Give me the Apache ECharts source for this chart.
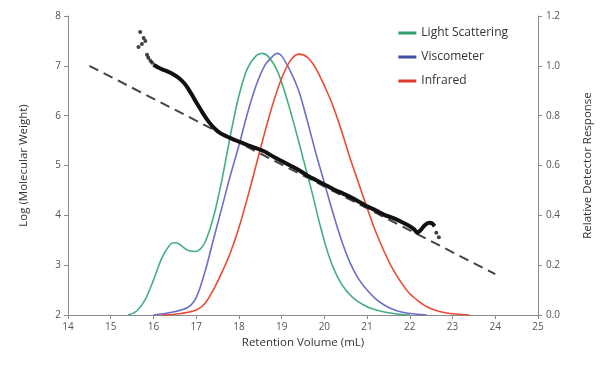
<!DOCTYPE html>
<html><head><meta charset="utf-8">
<script src="https://cdn.jsdelivr.net/npm/echarts@6/dist/echarts.min.js"></script>
<style>html,body{margin:0;padding:0;background:#fff}#c{width:608px;height:373px}</style>
</head><body><div id="c"></div>
<script>
// Retention volume (mL) vs detector response
var lsX = [15.4,15.6,15.8,16.0,16.2,16.4,16.5,16.6,16.8,17.0,17.2,17.4,17.6,17.8,18.0,18.2,18.4,18.55,18.7,18.9,19.1,19.3,19.5,19.7,19.9,20.1,20.3,20.5,20.7,20.9,21.1,21.4,21.7,22.0];
var lsY = [0,0.015,0.06,0.14,0.23,0.285,0.29,0.285,0.26,0.255,0.29,0.39,0.54,0.72,0.88,0.99,1.04,1.05,1.035,0.98,0.88,0.76,0.63,0.5,0.36,0.24,0.155,0.1,0.065,0.042,0.026,0.012,0.004,0];
var viscX = [16.0,16.4,16.8,17.0,17.2,17.4,17.6,17.8,18.0,18.2,18.4,18.6,18.8,18.9,19.0,19.2,19.4,19.6,19.8,20.0,20.2,20.4,20.6,20.8,21.0,21.2,21.4,21.6,21.8,22.0,22.4];
var viscY = [0,0.01,0.03,0.07,0.17,0.3,0.43,0.56,0.68,0.81,0.92,1.0,1.04,1.05,1.04,0.98,0.9,0.78,0.65,0.53,0.41,0.3,0.21,0.145,0.1,0.065,0.04,0.023,0.012,0.006,0];
var irX = [16.2,16.6,17.0,17.2,17.4,17.6,17.8,18.0,18.2,18.4,18.6,18.8,19.0,19.2,19.4,19.6,19.8,20.0,20.2,20.4,20.6,20.8,21.0,21.2,21.4,21.6,21.8,22.0,22.2,22.4,22.6,22.8,23.0,23.4];
var irY = [0,0.005,0.02,0.045,0.1,0.17,0.25,0.35,0.47,0.6,0.73,0.85,0.95,1.02,1.047,1.035,0.99,0.92,0.84,0.74,0.63,0.53,0.43,0.335,0.255,0.185,0.13,0.085,0.056,0.033,0.019,0.01,0.005,0];
// Log molecular weight trace
var mwX = [16.0,16.1,16.2,16.3,16.4,16.5,16.6,16.7,16.8,16.9,17.0,17.1,17.2,17.3,17.4,17.5,17.6,17.8,18.0,18.2,18.4,18.6,18.8,19.0,19.2,19.4,19.6,19.8,20.0,20.2,20.4,20.6,20.8,21.0,21.2,21.4,21.6,21.8,22.0,22.1,22.17,22.25,22.35,22.45,22.52,22.58];
var mwY = [7.02,6.97,6.93,6.9,6.86,6.81,6.75,6.67,6.56,6.42,6.27,6.13,5.99,5.87,5.77,5.69,5.63,5.55,5.48,5.41,5.35,5.28,5.18,5.09,5.0,4.91,4.8,4.71,4.62,4.53,4.45,4.37,4.28,4.18,4.1,4.01,3.95,3.87,3.78,3.72,3.65,3.7,3.8,3.85,3.84,3.78];
var mwDotX = [15.69,15.77,15.81,15.65,15.73,15.85,15.88,15.93,15.97,22.62,22.68];
var mwDotY = [7.68,7.56,7.5,7.38,7.44,7.22,7.16,7.1,7.06,3.65,3.56];
// Calibration fit
var fitX = [14.5,24.0];
var fitY = [7.0,2.82];

var xTicks = [14,15,16,17,18,19,20,21,22,23,24,25];
function pairs(a,b){return a.map(function(v,i){return [v,b[i]];});}
var FONT = '"Open Sans", "Liberation Sans", sans-serif';
var axisLine = {show:true, lineStyle:{color:'#8a8a8a', width:1}};
var axisTick = {show:true, length:4, lineStyle:{color:'#8a8a8a'}};
var lbl = {color:'#555', fontSize:10, fontFamily:FONT};
var chart = echarts.init(document.getElementById('c'));
chart.setOption({
  animation:false,
  backgroundColor:'#fff',
  grid:{left:68, right:70, top:16, bottom:58},
  legend:{
    right:95, top:22, orient:'vertical', itemGap:12, itemWidth:18, itemHeight:3,
    icon:'rect',
    textStyle:{color:'#333', fontSize:12, fontFamily:FONT},
    data:[
      {name:'Light Scattering', itemStyle:{color:'#2e9e6e'}},
      {name:'Viscometer', itemStyle:{color:'#3d4fa5'}},
      {name:'Infrared', itemStyle:{color:'#e0392e'}}
    ]
  },
  xAxis:{
    type:'value', min:xTicks[0], max:xTicks[xTicks.length-1], interval:1,
    name:'Retention Volume (mL)', nameLocation:'middle', nameGap:22,
    nameTextStyle:{color:'#333', fontSize:11.5, fontFamily:FONT},
    axisLine:axisLine, axisTick:axisTick, splitLine:{show:false},
    axisLabel:Object.assign({margin:7}, lbl)
  },
  yAxis:[
    {type:'value', min:2, max:8, interval:1,
     name:'Log (Molecular Weight)', nameLocation:'middle', nameGap:38, nameRotate:90,
     nameTextStyle:{color:'#333', fontSize:11.5, fontFamily:FONT},
     axisLine:axisLine, axisTick:axisTick, splitLine:{show:false},
     axisLabel:Object.assign({margin:7}, lbl)},
    {type:'value', min:0, max:1.2, interval:0.2, position:'right',
     name:'Relative Detector Response', nameLocation:'middle', nameGap:44, nameRotate:90,
     nameTextStyle:{color:'#333', fontSize:11.5, fontFamily:FONT},
     axisLine:axisLine, axisTick:axisTick, splitLine:{show:false},
     axisLabel:Object.assign({margin:8, formatter:function(v){return v.toFixed(1);}}, lbl)}
  ],
  series:[
    {name:'Light Scattering', type:'line', yAxisIndex:1, smooth:0.3, symbol:'none',
     lineStyle:{color:'#45b07f', width:1.6}, itemStyle:{color:'#2e9e6e'}, data:pairs(lsX,lsY), z:3},
    {name:'Viscometer', type:'line', yAxisIndex:1, smooth:0.3, symbol:'none',
     lineStyle:{color:'#6a6fc8', width:1.6}, itemStyle:{color:'#3d4fa5'}, data:pairs(viscX,viscY), z:3},
    {name:'Infrared', type:'line', yAxisIndex:1, smooth:0.3, symbol:'none',
     lineStyle:{color:'#ec4a34', width:1.6}, itemStyle:{color:'#e0392e'}, data:pairs(irX,irY), z:3},
    {name:'fit', type:'line', yAxisIndex:0, symbol:'none',
     lineStyle:{color:'#444', width:2, type:[10,6]}, data:pairs(fitX,fitY), z:2},
    {name:'mw', type:'line', yAxisIndex:0, smooth:0.2, symbol:'none',
     lineStyle:{color:'#111', width:4}, data:pairs(mwX,mwY), z:4},
    {name:'mwdots', type:'scatter', yAxisIndex:0, symbolSize:4,
     itemStyle:{color:'#111'}, data:pairs(mwDotX,mwDotY), z:4}
  ]
});
</script></body></html>
